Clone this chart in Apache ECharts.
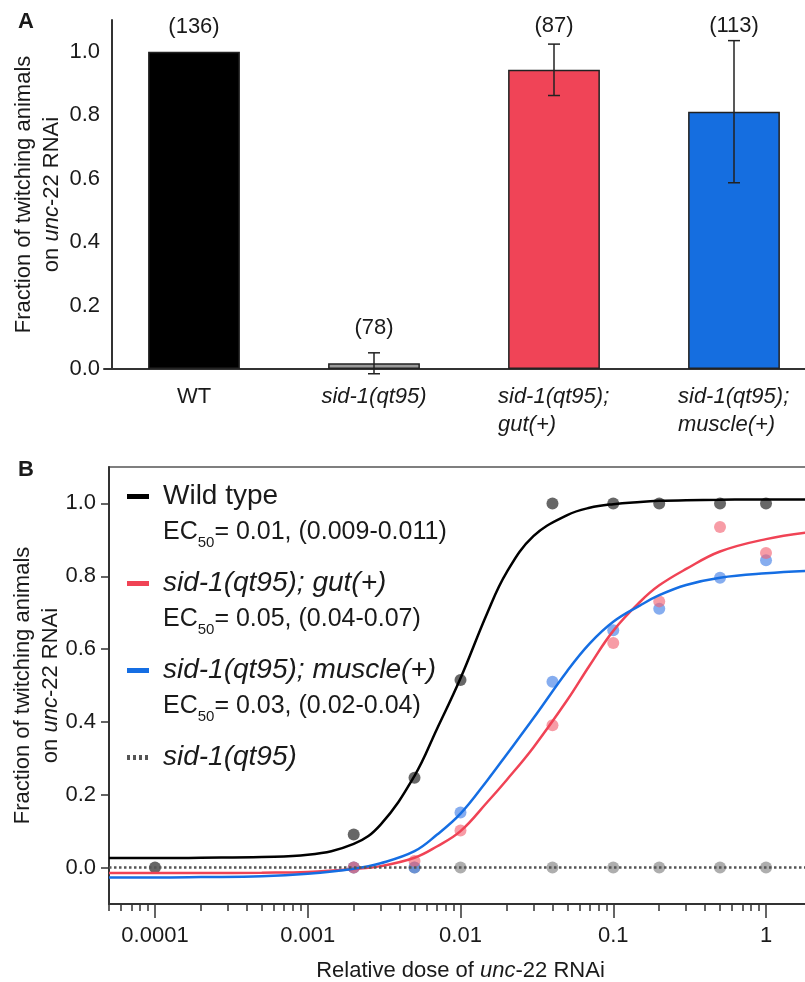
<!DOCTYPE html>
<html>
<head>
<meta charset="utf-8">
<script src="https://cdn.jsdelivr.net/npm/echarts@6/dist/echarts.min.js"></script>
<style>
html, body { margin: 0; padding: 0; background: #fff; }
#chart { width: 805px; height: 982px; }
</style>
</head>
<body>
<div id="chart"></div>
<script>
/* panel A */
var strains = ['WT', 'sid-1(qt95)', 'sid-1(qt95);\ngut(+)', 'sid-1(qt95);\nmuscle(+)'];
var barValues = [1.0, 0.018, 0.943, 0.811];
var errLow = [null, -0.015, 0.862, 0.587];
var errHigh = [null, 0.051, 1.024, 1.035];
var animalCounts = [136, 78, 87, 113];
var barTicks = [0, 0.2, 0.4, 0.6, 0.8, 1.0];

/* panel B */
var doseTicks = [0.0001, 0.001, 0.01, 0.1, 1];
var doseMinorTicks = [
    0.00005, 0.00006, 0.00007, 0.00008, 0.00009,
    0.0002, 0.0003, 0.0004, 0.0005, 0.0006, 0.0007, 0.0008, 0.0009,
    0.002, 0.003, 0.004, 0.005, 0.006, 0.007, 0.008, 0.009,
    0.02, 0.03, 0.04, 0.05, 0.06, 0.07, 0.08, 0.09,
    0.2, 0.3, 0.4, 0.5, 0.6, 0.7, 0.8, 0.9
];
var fracTicks = [0, 0.2, 0.4, 0.6, 0.8, 1.0];

var doses = [0.0001, 0.002, 0.005, 0.01, 0.04, 0.1, 0.2, 0.5, 1];
var wtPoints = [0, 0.091, 0.247, 0.515, 1.0, 1.0, 1.0, 1.0, 1.0];
var gutPoints = [null, 0, 0.018, 0.102, 0.391, 0.617, 0.731, 0.935, 0.864];
var musclePoints = [null, 0, 0, 0.151, 0.51, 0.652, 0.711, 0.796, 0.844];
var sidPoints = [null, 0, 0, 0, 0, 0, 0, 0, 0];

/* fitted curves */
var fitDoses = [0.00005, 0.0001, 0.0002, 0.0005, 0.001, 0.002, 0.003, 0.005, 0.007, 0.01, 0.015,
                0.02, 0.03, 0.05, 0.07, 0.1, 0.15, 0.2, 0.3, 0.5, 1, 2];
var wtFit = [0.026, 0.026, 0.027, 0.029, 0.035, 0.065, 0.118, 0.252, 0.38, 0.52, 0.70,
             0.81, 0.91, 0.968, 0.988, 0.998, 1.004, 1.007, 1.009, 1.01, 1.011, 1.011];
var gutFit = [-0.015, -0.015, -0.015, -0.014, -0.012, -0.004, 0.004, 0.027, 0.058, 0.10, 0.18,
              0.24, 0.33, 0.46, 0.555, 0.65, 0.73, 0.775, 0.82, 0.868, 0.902, 0.922];
var muscleFit = [-0.027, -0.027, -0.026, -0.024, -0.017, -0.003, 0.012, 0.045, 0.09, 0.148, 0.24,
                 0.31, 0.41, 0.54, 0.615, 0.675, 0.72, 0.748, 0.776, 0.796, 0.808, 0.815];
var sidLineDoses = [0.00005, 2];
var sidLineValues = [0, 0];

var legendNames = ['Wild type', 'sid-1(qt95); gut(+)', 'sid-1(qt95); muscle(+)', 'sid-1(qt95)'];
var ec50Texts = ['0.01, (0.009-0.011)', '0.05, (0.04-0.07)', '0.03, (0.02-0.04)', ''];

var barColors = ['#000000', '#9a9a9a', '#f04457', '#156ee0'];
var FONT = '"Liberation Sans", Arial, Helvetica, sans-serif';
var INK = '#1a1a1a';

function zip(xs, ys) {
    var out = [];
    xs.forEach(function (x, i) {
        if (ys[i] !== null) out.push([x, ys[i]]);
    });
    return out;
}

var box = document.getElementById('chart');
var myChart = echarts.init(box, null, { renderer: 'canvas' });

var axisLine = { show: true, onZero: false, lineStyle: { color: '#333', width: 2 } };
var nameStyle = {
    fontSize: 22, lineHeight: 28, color: INK, fontFamily: FONT,
    rich: { i: { fontSize: 22, lineHeight: 28, fontStyle: 'italic', color: INK, fontFamily: FONT } }
};

var options = {
    animation: false,
    backgroundColor: '#fff',
    textStyle: { fontFamily: FONT, color: INK },
    title: [
        { text: 'A', left: 13, top: 6, textStyle: { fontSize: 22, fontWeight: 'bold', color: INK, fontFamily: FONT } },
        { text: 'B', left: 13, top: 454, textStyle: { fontSize: 22, fontWeight: 'bold', color: INK, fontFamily: FONT } }
    ],
    grid: [
        { left: 104, top: 20, width: 720, height: 349, outerBoundsMode: 'none', containLabel: false },
        { left: 109, top: 467, width: 703, height: 437, outerBoundsMode: 'none', containLabel: false,
          show: true, borderColor: '#555', borderWidth: 1.5 }
    ],
    legend: {
        orient: 'vertical',
        left: 122,
        top: 473,
        itemWidth: 31,
        itemHeight: 72,
        itemGap: 15,
        selectedMode: false,
        itemStyle: { borderWidth: 0 },
        data: [
            { name: legendNames[0], icon: 'path://M0,16h22v5h-22z M0,0h0 M31,72h0' },
            { name: legendNames[1], icon: 'path://M0,16h22v5h-22z M0,0h0 M31,72h0' },
            { name: legendNames[2], icon: 'path://M0,16h22v5h-22z M0,0h0 M31,72h0' },
            { name: legendNames[3], icon: 'path://M0,16h3v5h-3z M6,16h3v5h-3z M12,16h3v5h-3z M18,16h3v5h-3z M0,0h0 M31,72h0' }
        ],
        formatter: function (name) {
            var k = legendNames.indexOf(name);
            var first = k === 0 ? '{n|' + name + '}' : '{i|' + name + '}';
            var second = ec50Texts[k] ? '{e|EC}{s|50}{e|= ' + ec50Texts[k] + '}' : '{e| }';
            return first + '\n' + second;
        },
        textStyle: {
            fontFamily: FONT,
            color: INK,
            rich: {
                n: { fontSize: 28, lineHeight: 36, fontFamily: FONT, color: INK },
                i: { fontSize: 28, lineHeight: 36, fontStyle: 'italic', fontFamily: FONT, color: INK },
                e: { fontSize: 25, lineHeight: 36, fontFamily: FONT, color: INK },
                s: { fontSize: 15, verticalAlign: 'bottom', fontFamily: FONT, color: INK }
            }
        }
    },
    xAxis: [
        {
            gridIndex: 0,
            type: 'category',
            data: strains,
            axisLine: axisLine,
            axisTick: {
                length: 7,
                lineStyle: { color: '#333', width: 1.5 },
                interval: function (index) { return index > 0; }
            },
            axisLabel: {
                margin: 14,
                interval: 0,
                formatter: function (value) {
                    if (value.indexOf('\n') >= 0) {
                        return value.split('\n').map(function (s) { return '{l|' + s + '}'; }).join('\n');
                    }
                    return value === 'WT' ? '{n|' + value + '}' : '{i|' + value + '}';
                },
                rich: {
                    n: { fontSize: 22, lineHeight: 28, fontFamily: FONT, color: INK },
                    i: { fontSize: 22, lineHeight: 28, fontStyle: 'italic', fontFamily: FONT, color: INK },
                    l: { fontSize: 22, lineHeight: 28, fontStyle: 'italic', width: 112, align: 'left', fontFamily: FONT, color: INK }
                }
            }
        },
        {
            gridIndex: 1,
            type: 'log',
            logBase: 10,
            position: 'bottom',
            min: 0.00005,
            max: 2,
            axisLine: axisLine,
            axisTick: { customValues: doseTicks, length: 14, lineStyle: { color: '#333', width: 1.5 } },
            axisLabel: {
                customValues: doseTicks,
                margin: 21,
                fontSize: 22,
                color: INK,
                fontFamily: FONT,
                formatter: function (v) { return String(v); }
            },
            splitLine: { show: false },
            minorTick: { show: false },
            name: 'Relative dose of {i|unc}-22 RNAi',
            nameLocation: 'middle',
            nameMoveOverlap: false,
            nameGap: 53,
            nameTextStyle: nameStyle
        },
        {
            gridIndex: 1,
            type: 'log',
            logBase: 10,
            position: 'bottom',
            min: 0.00005,
            max: 2,
            axisLine: { show: false, onZero: false },
            axisTick: { customValues: doseMinorTicks, length: 7, lineStyle: { color: '#333', width: 1.5 } },
            axisLabel: { show: false },
            splitLine: { show: false }
        }
    ],
    yAxis: [
        {
            gridIndex: 0,
            type: 'value',
            min: 0,
            max: 1.1,
            offset: -8,
            axisLine: axisLine,
            axisTick: { customValues: barTicks, length: 7, lineStyle: { color: '#333', width: 1.5 } },
            axisLabel: {
                customValues: barTicks, margin: 12, fontSize: 22, color: INK, fontFamily: FONT,
                formatter: function (v) { return v.toFixed(1); }
            },
            splitLine: { show: false },
            name: 'Fraction of twitching animals\non {i|unc}-22 RNAi',
            nameLocation: 'middle',
            nameMoveOverlap: false,
            nameGap: 46,
            nameTextStyle: nameStyle
        },
        {
            gridIndex: 1,
            type: 'value',
            min: -0.1,
            max: 1.1,
            axisLine: axisLine,
            axisTick: { customValues: fracTicks, length: 8, lineStyle: { color: '#333', width: 1.5 } },
            axisLabel: {
                customValues: fracTicks, margin: 13, fontSize: 22, color: INK, fontFamily: FONT,
                formatter: function (v) { return v.toFixed(1); }
            },
            splitLine: { show: false },
            name: 'Fraction of twitching animals\non {i|unc}-22 RNAi',
            nameLocation: 'middle',
            nameMoveOverlap: false,
            nameGap: 44,
            nameTextStyle: nameStyle
        }
    ],
    series: [
        {
            name: 'fraction',
            type: 'bar',
            xAxisIndex: 0,
            yAxisIndex: 0,
            barWidth: '51%',
            data: barValues.map(function (v, i) {
                return { value: v, itemStyle: { color: barColors[i] } };
            }),
            itemStyle: { borderColor: '#222', borderWidth: 1.5 }
        },
        {
            name: 'error',
            type: 'custom',
            xAxisIndex: 0,
            yAxisIndex: 0,
            clip: false,
            z: 5,
            data: strains.map(function (s, i) { return [i, barValues[i]]; }),
            encode: { x: 0, y: 1 },
            renderItem: function (params, api) {
                var i = params.dataIndex;
                var x = api.coord([i, 0])[0];
                var children = [];
                var topVal = barValues[i];
                if (errHigh[i] !== null) {
                    var lo = api.coord([i, errLow[i]])[1];
                    var hi = api.coord([i, errHigh[i]])[1];
                    var st = { stroke: '#222', lineWidth: 1.5 };
                    children.push({ type: 'line', shape: { x1: x, y1: lo, x2: x, y2: hi }, style: st });
                    children.push({ type: 'line', shape: { x1: x - 6, y1: lo, x2: x + 6, y2: lo }, style: st });
                    children.push({ type: 'line', shape: { x1: x - 6, y1: hi, x2: x + 6, y2: hi }, style: st });
                    topVal = Math.max(topVal, errHigh[i]);
                }
                var topPx = api.coord([i, topVal])[1];
                var labelY = Math.max(topPx - 25, api.coord([i, 1.08])[1]);
                children.push({
                    type: 'text',
                    x: x,
                    y: labelY,
                    style: {
                        text: '(' + animalCounts[i] + ')',
                        textAlign: 'center',
                        textVerticalAlign: 'middle',
                        fontSize: 22,
                        fontFamily: FONT,
                        fill: INK
                    }
                });
                return { type: 'group', children: children };
            }
        },
        {
            name: legendNames[0], type: 'line', xAxisIndex: 1, yAxisIndex: 1,
            data: zip(fitDoses, wtFit), showSymbol: false, smooth: 0.4,
            color: '#000', lineStyle: { color: '#000', width: 2.5 }
        },
        {
            name: legendNames[1], type: 'line', xAxisIndex: 1, yAxisIndex: 1,
            data: zip(fitDoses, gutFit), showSymbol: false, smooth: 0.4,
            color: '#f04355', lineStyle: { color: '#f04355', width: 2.5 }
        },
        {
            name: legendNames[2], type: 'line', xAxisIndex: 1, yAxisIndex: 1,
            data: zip(fitDoses, muscleFit), showSymbol: false, smooth: 0.4,
            color: '#156ee3', lineStyle: { color: '#156ee3', width: 2.5 }
        },
        {
            name: legendNames[3], type: 'line', xAxisIndex: 1, yAxisIndex: 1,
            data: zip(sidLineDoses, sidLineValues), showSymbol: false,
            color: '#555', lineStyle: { color: '#555', width: 2.5, type: [2.5, 2.5] }
        },
        {
            name: 'sid points', type: 'scatter', xAxisIndex: 1, yAxisIndex: 1,
            data: zip(doses, sidPoints), symbolSize: 12,
            itemStyle: { color: 'rgba(120,120,120,0.75)' }
        },
        {
            name: 'muscle points', type: 'scatter', xAxisIndex: 1, yAxisIndex: 1,
            data: zip(doses, musclePoints), symbolSize: 12,
            itemStyle: { color: 'rgba(70,130,230,0.82)' }
        },
        {
            name: 'gut points', type: 'scatter', xAxisIndex: 1, yAxisIndex: 1,
            data: zip(doses, gutPoints), symbolSize: 12,
            itemStyle: { color: 'rgba(243,100,116,0.8)' }
        },
        {
            name: 'wt points', type: 'scatter', xAxisIndex: 1, yAxisIndex: 1,
            data: zip(doses, wtPoints), symbolSize: 12,
            itemStyle: { color: 'rgba(45,45,45,0.9)' }
        }
    ]
};

myChart.setOption(options);
</script>
</body>
</html>
